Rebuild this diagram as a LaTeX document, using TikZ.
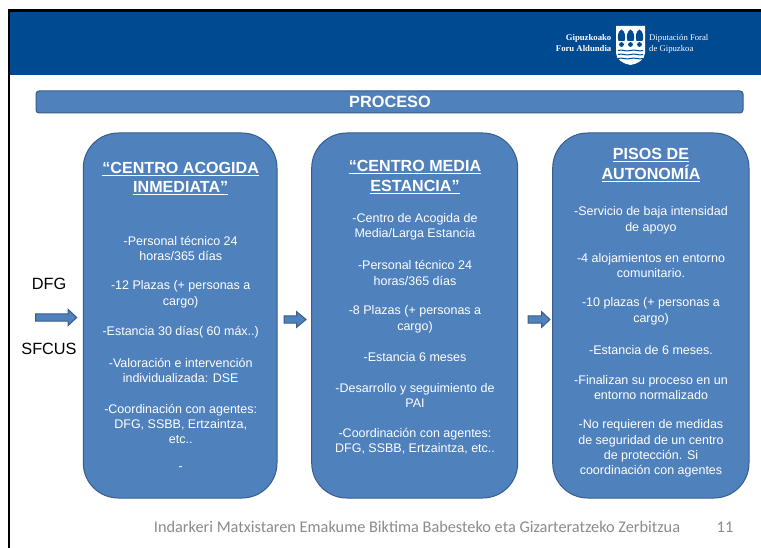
\documentclass[tikz,border=0pt]{standalone}
\usepackage{fontspec}
\setmainfont{Liberation Sans}
\newfontfamily\carl{Carlito}
\newfontfamily\serifb{Liberation Serif}
\definecolor{hdr}{HTML}{004A92}
\definecolor{boxf}{HTML}{4F81BD}
\definecolor{boxd}{HTML}{385D8A}
\definecolor{foot}{HTML}{8B8B8B}
\tikzset{
 x=1pt,y=-1pt,
 panel/.style={fill=boxf,draw=boxd,line width=1pt,rounded corners=35pt},
 ttl/.style={text=white,font=\fontsize{16.1}{19.7}\selectfont\bfseries,align=center,inner sep=0pt,anchor=center},
 body/.style={text=white,font=\fontsize{12.5}{15.3}\selectfont,align=center,inner sep=0pt,anchor=center},
 lab/.style={text=black,font=\fontsize{16.3}{18}\selectfont,inner sep=0pt,anchor=center},
 flow/.style={fill=boxf,draw=boxd,line width=1pt},
 logot/.style={text=white,inner sep=0pt,font=\fontsize{8.7}{11}\selectfont\serifb}
}
\newcommand{\blockarrow}[5]{% x0,x1,head x,yc,half
 \draw[flow] (#1,#4-#5*0.45) -- (#3,#4-#5*0.45) -- (#3,#4-#5) -- (#2,#4) -- (#3,#4+#5) -- (#3,#4+#5*0.45) -- (#1,#4+#5*0.45) -- cycle;}
\begin{document}
\begin{tikzpicture}
\useasboundingbox (0,0) rectangle (761,548);
\fill[white] (0,0) rectangle (761,548);
% slide frame and header
\fill[black] (7.5,9) rectangle (761,12);
\fill[black] (7.5,9) rectangle (10,548);
\fill[hdr] (10,12) rectangle (761,75);
% logo
\path[fill=white] (616,26) -- (645,26) -- (645,53) .. controls (645,60) and (637,64) .. (630.5,65) .. controls (624,64) and (616,60) .. (616,53) -- cycle;
\foreach \c in {621.5,630.5,639.5}{
 \fill[hdr] (\c,29.5) .. controls (\c+3.5,31) and (\c+4.5,37) .. (\c+3,41) -- (\c-3,41) .. controls (\c-4.5,37) and (\c-3.5,31) .. (\c,29.5);
 \fill[hdr] (\c,44.5) circle (2.4);
}
\foreach \yy in {50.5,54.5,58.5}{
 \draw[hdr,line width=1pt] (618,\yy) .. controls (622,\yy-1.5) and (626,\yy+1.5) .. (630.5,\yy) .. controls (635,\yy-1.5) and (639,\yy+1.5) .. (643,\yy);
}
\node[logot,anchor=east,font=\fontsize{8.7}{11}\selectfont\serifb\bfseries] (lg1) at (611.5,38) {Gipuzkoako};
\node[logot,anchor=east,font=\fontsize{8.7}{11}\selectfont\serifb\bfseries] (lg2) at (611.5,49) {Foru Aldundia};
\node[logot,anchor=west] (lg3) at (649,38) {Diputación Foral};
\node[logot,anchor=west] (lg4) at (649,49) {de Gipuzkoa};
% title bar
\draw[fill=boxf,draw=boxd,line width=1pt,rounded corners=3pt] (36,91) rectangle (743,113);
\node[text=white,inner sep=0pt,font=\fontsize{16.3}{18}\selectfont\bfseries] (proc) at (390,102) {PROCESO};
% panels
\draw[panel] (83.3,133) rectangle (277,498);
\draw[panel] (311.7,133) rectangle (517.7,498);
\draw[panel] (552.7,133) rectangle (749,498);
% panel 1
\node[ttl] (a0) at (180.7,178.5) {\underline{“CENTRO ACOGIDA}\\\underline{INMEDIATA”}};
\node[body] (a1) at (180.7,248.3) {-Personal técnico 24\\horas/365 días};
\node[body] (a2) at (180.7,294.3) {-12 Plazas (+ personas a\\cargo)};
\node[body] (a3) at (180.7,331.7) {-Estancia 30 días( 60 máx..)};
\node[body] (a4) at (180.7,370.3) {-Valoración e intervención\\individualizada: DSE};
\node[body] (a5) at (180.7,424) {-Coordinación con agentes:\\DFG, SSBB, Ertzaintza,\\etc..};
\node[body] (a6) at (180.7,469) {-};
% panel 2
\node[ttl] (b0) at (415,177.3) {\underline{“CENTRO MEDIA}\\\underline{ESTANCIA”}};
\node[body] (b1) at (415,227) {-Centro de Acogida de\\Media/Larga Estancia};
\node[body] (b2) at (415,273) {-Personal técnico 24\\horas/365 días};
\node[body] (b3) at (415,319.3) {-8 Plazas (+ personas a\\cargo)};
\node[body] (b4) at (415,356.7) {-Estancia 6 meses};
\node[body] (b5) at (415,395.3) {-Desarrollo y seguimiento de\\PAI};
\node[body] (b6) at (415,441.3) {-Coordinación con agentes:\\DFG, SSBB, Ertzaintza, etc..};
% panel 3
\node[ttl] (c0) at (651,165) {\underline{PISOS DE}\\\underline{AUTONOMÍA}};
\node[body] (c1) at (651,220.3) {-Servicio de baja intensidad\\de apoyo};
\node[body] (c2) at (651,265.7) {-4 alojamientos en entorno\\comunitario.};
\node[body] (c3) at (651,311.3) {-10 plazas (+ personas a\\cargo)};
\node[body] (c4) at (651,349.7) {-Estancia de 6 meses.};
\node[body] (c5) at (651,387.8) {-Finalizan su proceso en un\\entorno  normalizado};
\node[body] (c6) at (651,448.7) {-No requieren de medidas\\de seguridad de un centro\\de protección. Si\\coordinación con agentes};
% arrows
\blockarrow{35.7}{76.7}{68}{317.5}{8.2}
\blockarrow{284}{306}{296.7}{319.5}{7.8}
\blockarrow{528}{550}{541.7}{319.5}{7.8}
% labels
\node[lab] (dfg) at (49,284) {DFG};
\node[lab] (sf) at (49,349) {SFCUS};
% footer
\node[text=foot,inner sep=0pt,font=\fontsize{16.3}{18}\selectfont\carl] (ft) at (417,527) {Indarkeri Matxistaren Emakume Biktima Babesteko eta Gizarteratzeko Zerbitzua};
\node[text=foot,inner sep=0pt,font=\fontsize{16.3}{18}\selectfont\carl] (pg) at (725,527) {11};
\end{tikzpicture}
\end{document}
